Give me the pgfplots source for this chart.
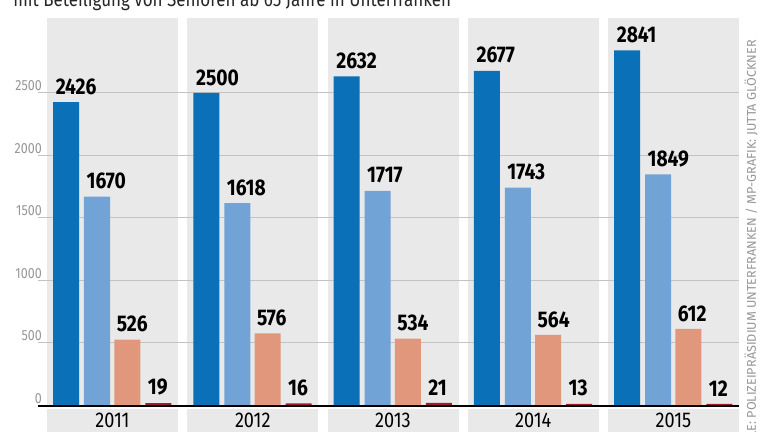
\documentclass[border=0pt]{standalone}
\usepackage{pgfplots}
\pgfplotsset{compat=1.18}
\usepackage{fontspec}
\setmainfont{Fira Sans}[FakeStretch=0.85]
\newfontfamily\srcfont{Fira Sans}
\definecolor{cBlue}{RGB}{10,112,183}
\definecolor{cLight}{RGB}{114,163,214}
\definecolor{cSalmon}{RGB}{225,151,124}
\definecolor{cDark}{RGB}{158,27,50}
\definecolor{panelgray}{RGB}{233,233,233}
\definecolor{gridgray}{RGB}{195,195,195}
\definecolor{labgray}{RGB}{150,150,150}
\begin{document}
\begin{tikzpicture}
\begin{axis}[
  scale only axis, width=519pt, height=290.4pt,
  xmin=47, xmax=739, ymin=0, ymax=3097.6,
  clip=false,
  axis line style={draw=none},
  tick style={draw=none},
  xtick=\empty,
  ytick={0,500,1000,1500,2000,2500},
  yticklabels={0,500,1000,1500,2000,2500},
  yticklabel style={anchor=base east, inner sep=0pt, xshift=-3.75pt, yshift=1.5pt,
    text=labgray, font=\fontsize{11}{11}\selectfont},
  /pgf/number format/assume math mode=true,
  /pgf/number format/1000 sep={},
  every axis plot/.append style={ybar, bar width=26, bar shift=0pt, draw=none},
  nodes near coords,
  every node near coord/.append style={anchor=south west, inner sep=0pt,
    xshift=-8pt, yshift=5.5pt, text=black,
    font=\fontsize{17}{17}\selectfont\bfseries},
]
% bounding box corners
\coordinate (bbSW) at (axis cs:0,-212);
\coordinate (bbNE) at (axis cs:768,3244);
% panels
\fill[panelgray] (axis cs:47,0) rectangle (axis cs:178,3097.6);
\fill[panelgray] (axis cs:187.25,0) rectangle (axis cs:318.25,3097.6);
\fill[panelgray] (axis cs:327.5,0) rectangle (axis cs:458.5,3097.6);
\fill[panelgray] (axis cs:467.75,0) rectangle (axis cs:598.75,3097.6);
\fill[panelgray] (axis cs:608,0) rectangle (axis cs:739,3097.6);
% year boxes
\fill[panelgray] (axis cs:47,-28) rectangle (axis cs:178,-260);
\fill[panelgray] (axis cs:187.25,-28) rectangle (axis cs:318.25,-260);
\fill[panelgray] (axis cs:327.5,-28) rectangle (axis cs:458.5,-260);
\fill[panelgray] (axis cs:467.75,-28) rectangle (axis cs:598.75,-260);
\fill[panelgray] (axis cs:608,-28) rectangle (axis cs:739,-260);
% gridlines
\draw[gridgray, line width=0.75pt] (axis cs:38,500) -- (axis cs:739,500);
\draw[gridgray, line width=0.75pt] (axis cs:38,1000) -- (axis cs:739,1000);
\draw[gridgray, line width=0.75pt] (axis cs:38,1500) -- (axis cs:739,1500);
\draw[gridgray, line width=0.75pt] (axis cs:38,2000) -- (axis cs:739,2000);
\draw[gridgray, line width=0.75pt] (axis cs:38,2500) -- (axis cs:739,2500);
% bars
\addplot[fill=cBlue] coordinates {(66.2,2426) (206.45,2500) (346.7,2632) (486.95,2677) (627.2,2841)};
\addplot[fill=cLight] coordinates {(97,1670) (237.25,1618) (377.5,1717) (517.75,1743) (658,1849)};
\addplot[fill=cSalmon] coordinates {(127.3,526) (267.55,576) (407.8,534) (548.05,564) (688.3,612)};
\addplot[fill=cDark] coordinates {(158.3,19) (298.55,16) (438.8,21) (579.05,13) (719.3,12)};
% baseline
\draw[black, line width=1.5pt] (axis cs:38,-8) -- (axis cs:739,-8);
% year labels
\node[font=\fontsize{16}{16}\selectfont, text=black] at (axis cs:112.5,-116) {2011};
\node[font=\fontsize{16}{16}\selectfont, text=black] at (axis cs:252.75,-116) {2012};
\node[font=\fontsize{16}{16}\selectfont, text=black] at (axis cs:393,-116) {2013};
\node[font=\fontsize{16}{16}\selectfont, text=black] at (axis cs:533.25,-116) {2014};
\node[font=\fontsize{16}{16}\selectfont, text=black] at (axis cs:673.5,-116) {2015};
% title (cut off at the top, as in the source image)
\node[anchor=base west, inner sep=0pt, font=\fontsize{15}{15}\selectfont, text=black!85]
  at (axis cs:13,3190) {mit Beteiligung von Senioren ab 65 Jahre in Unterfranken};
% source
\node[anchor=east, rotate=90, inner sep=0pt, text=labgray, font=\srcfont\fontsize{9.5}{9.5}\selectfont]
  at (axis cs:751,2924) {QUELLE: POLIZEIPRÄSIDIUM UNTERFRANKEN / MP-GRAFIK: JUTTA GLÖCKNER};
\end{axis}
\pgfresetboundingbox
\useasboundingbox (bbSW) rectangle (bbNE);
\end{tikzpicture}
\end{document}
